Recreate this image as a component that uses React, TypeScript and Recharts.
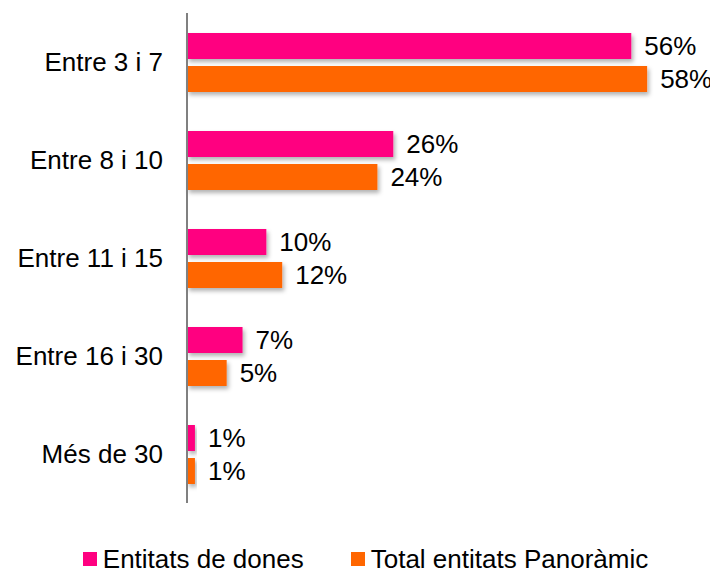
import { BarChart, Bar, XAxis, YAxis, LabelList, Legend } from "recharts";

const categories = ["Entre 3 i 7", "Entre 8 i 10", "Entre 11 i 15", "Entre 16 i 30", "Més de 30"];
const entitatsDones = [56, 26, 10, 7, 1];
const totalPanoramic = [58, 24, 12, 5, 1];
const seriesNames = ["Entitats de dones", "Total entitats Panoràmic"];
const seriesColors = ["#FF0080", "#FF6600"];

const data = categories.map((name, i) => ({
  name,
  dones: entitatsDones[i],
  total: totalPanoramic[i],
}));

const FONT = "'Liberation Sans', Arial, sans-serif";

// bar with a soft drop shadow, like the office chart
const ShadowBar = (props: any) => {
  const { x, y, width, height, fill } = props;
  if (!width || width <= 0) return null;
  return <rect x={x} y={y} width={width} height={height} fill={fill} filter="url(#barShadow)" />;
};

const LegendContent = () => (
  <div
    style={{
      height: 74,
      paddingLeft: 60,
      paddingBottom: 4,
      boxSizing: "border-box",
      display: "flex",
      alignItems: "flex-end",
      justifyContent: "center",
      fontFamily: FONT,
      fontSize: 26,
      lineHeight: "28px",
      color: "#000",
    }}
  >
    {seriesNames.map((n, i) => (
      <div key={n} style={{ display: "flex", alignItems: "center", marginLeft: i ? 47 : 0 }}>
        <span style={{ width: 14, height: 14, background: seriesColors[i], marginRight: 6, display: "inline-block" }} />
        <span>{n}</span>
      </div>
    ))}
  </div>
);

export default function App() {
  return (
    <div style={{ fontFamily: FONT }}>
      <BarChart
        width={710}
        height={569}
        data={data}
        layout="vertical"
        margin={{ top: 5, right: 55, left: 0, bottom: 0 }}
        barSize={26}
        barGap={7}
      >
        <defs>
          <filter id="barShadow" x="-10%" y="-30%" width="130%" height="180%">
            <feDropShadow dx="2" dy="3" stdDeviation="2" floodColor="#000" floodOpacity="0.3" />
          </filter>
        </defs>
        <XAxis type="number" domain={[0, 60]} hide />
        <YAxis
          type="category"
          dataKey="name"
          width={179}
          axisLine={{ stroke: "#808080", strokeWidth: 2 }}
          tickLine={false}
          tickSize={0}
          tickMargin={24}
          tick={{ fontSize: 26, fill: "#000", fontFamily: FONT }}
        />
        <Legend verticalAlign="bottom" content={<LegendContent />} />
        <Bar dataKey="dones" name={seriesNames[0]} fill={seriesColors[0]} shape={ShadowBar} isAnimationActive={false}>
          <LabelList
            dataKey="dones"
            position="right"
            offset={13}
            formatter={(v: any) => `${v}%`}
            style={{ fontSize: 26, fill: "#000", fontFamily: FONT }}
          />
        </Bar>
        <Bar dataKey="total" name={seriesNames[1]} fill={seriesColors[1]} shape={ShadowBar} isAnimationActive={false}>
          <LabelList
            dataKey="total"
            position="right"
            offset={13}
            formatter={(v: any) => `${v}%`}
            style={{ fontSize: 26, fill: "#000", fontFamily: FONT }}
          />
        </Bar>
      </BarChart>
    </div>
  );
}
